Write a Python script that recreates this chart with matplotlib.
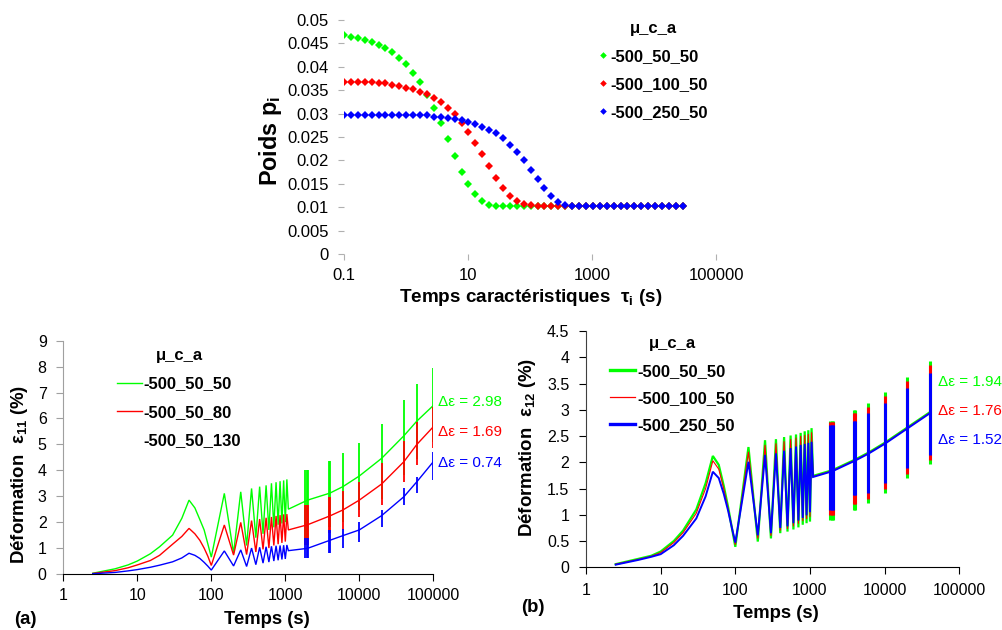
import matplotlib
matplotlib.use('Agg')
import matplotlib.pyplot as plt
from matplotlib.lines import Line2D

plt.rcParams['font.family'] = ['Liberation Sans', 'DejaVu Sans']
plt.rcParams['mathtext.fontset'] = 'custom'
plt.rcParams['mathtext.rm'] = 'Liberation Sans'
plt.rcParams['mathtext.it'] = 'Liberation Sans:italic'
plt.rcParams['mathtext.bf'] = 'Liberation Sans:bold'

GREEN, RED, BLUE = '#00FF00', '#FF0000', '#0000FF'

# ---------------- top panel : weights p_i vs tau_i ----------------
tau = [0.1, 0.1293, 0.1671, 0.2160, 0.2793, 0.3610, 0.4667, 0.6033, 0.7798, 1.008,
       1.303, 1.685, 2.178, 2.816, 3.639, 4.705, 6.081, 7.862, 10.16, 13.14,
       16.98, 21.95, 28.38, 36.69, 47.42, 61.30, 79.25, 102.4, 132.4, 171.2,
       221.3, 286.1, 369.8, 478.1, 618.0, 798.9, 1033, 1335, 1726, 2231,
       2884, 3728, 4819, 6230, 8054, 10411, 13459, 17398, 22491, 29074]
p_500_50_50 = [0.0467, 0.0464, 0.0462, 0.0458, 0.0453, 0.0447, 0.0440, 0.0431, 0.0419, 0.0406,
               0.0387, 0.0367, 0.0340, 0.0312, 0.0279, 0.0245, 0.0210, 0.0176, 0.0150, 0.0128,
               0.0114, 0.0106, 0.0103] + [0.0102] * 27
p_500_100_50 = [0.0367, 0.0367, 0.0367, 0.0367, 0.0367, 0.0366, 0.0365, 0.0362, 0.0359, 0.0355,
                0.0352, 0.0347, 0.0341, 0.0334, 0.0325, 0.0313, 0.0299, 0.0281, 0.0261, 0.0238,
                0.0213, 0.0188, 0.0163, 0.0141, 0.0124, 0.0114, 0.0107, 0.0104, 0.0103] + [0.0103] * 21
p_500_250_50 = [0.0298] * 7 + [0.0298, 0.0297, 0.0297, 0.0296, 0.0296, 0.0296, 0.0293, 0.0292, 0.0290,
                               0.0289, 0.0286, 0.0283, 0.0278, 0.0272, 0.0266, 0.0258, 0.0247, 0.0234,
                               0.0218, 0.0200, 0.0180, 0.0160, 0.0142, 0.0124, 0.0112, 0.0106] + [0.0103] * 17
top_labels = ['-500_50_50', '-500_100_50', '-500_250_50']
top_yticks = [0, 0.005, 0.01, 0.015, 0.02, 0.025, 0.03, 0.035, 0.04, 0.045, 0.05]
top_yticklabels = ['0', '0.005', '0.01', '0.015', '0.02', '0.025', '0.03', '0.035', '0.04', '0.045', '0.05']
top_xticks = [0.1, 10, 1000, 100000]
top_xticklabels = ['0.1', '10', '1000', '100000']

# ---------------- panel (a) : eps11 ----------------
a_t_early = [2.5, 5, 7.5, 10, 15, 20, 30, 40, 50, 60, 70, 80, 90, 100]
a_g_early = [0.03, 0.2, 0.35, 0.5, 0.78, 1.05, 1.5, 2.15, 2.85, 2.55, 2.1, 1.7, 1.15, 0.65]
a_r_early = [0.02, 0.13, 0.24, 0.35, 0.52, 0.72, 1.15, 1.45, 1.76, 1.55, 1.3, 1.0, 0.68, 0.33]
a_b_early = [0.01, 0.06, 0.12, 0.17, 0.26, 0.34, 0.47, 0.62, 0.8, 0.72, 0.6, 0.45, 0.3, 0.15]
osc_t = [150, 200, 250, 300, 350, 400, 450, 500, 550, 600, 650, 700, 750, 800, 850, 900, 950, 1000, 1050]
a_g_osc = [3.11, 0.80, 3.17, 1.10, 3.30, 1.40, 3.37, 1.55, 3.42, 1.70, 3.50, 1.80, 3.54, 1.90, 3.58, 1.95, 3.61, 2.00, 3.65]
a_r_osc = [1.89, 0.73, 1.99, 0.75, 2.06, 0.85, 2.12, 0.95, 2.17, 1.00, 2.20, 1.10, 2.24, 1.15, 2.27, 1.20, 2.30, 1.25, 2.31]
a_b_osc = [0.89, 0.31, 0.93, 0.29, 1.00, 0.36, 1.03, 0.42, 1.05, 0.46, 1.07, 0.50, 1.09, 0.53, 1.10, 0.56, 1.11, 0.58, 1.12]
a_t_base = [1100, 2000, 4000, 6000, 10000, 20000, 40000, 60000, 100000]
a_g_base = [2.5, 2.85, 3.12, 3.37, 3.78, 4.46, 5.33, 5.9, 6.5]
a_r_base = [1.7, 1.9, 2.24, 2.47, 2.85, 3.47, 4.33, 5.0, 5.68]
a_b_base = [0.9, 0.99, 1.3, 1.48, 1.7, 2.25, 2.98, 3.56, 4.33]
a_t_spk = [1850, 1950, 2050, 3900, 4050, 6000, 10000, 20000, 40000, 60000, 100000]
a_g_top = [4.01, 4.01, 4.01, 4.37, 4.37, 4.68, 5.06, 5.77, 6.71, 7.33, 7.93]
a_g_bot = [1.4, 1.4, 1.4, 1.8, 1.8, 2.0, 2.45, 2.9, 3.8, 4.45, 5.1]
a_r_top = [2.66, 2.66, 2.66, 2.98, 2.98, 3.2, 3.56, 4.27, 5.13, 5.87, 6.45]
a_r_bot = [1.12, 1.12, 1.12, 1.57, 1.57, 1.7, 2.21, 2.66, 3.56, 4.2, 4.85]
a_b_top = [1.38, 1.38, 1.38, 1.7, 1.7, 1.72, 2.02, 2.47, 3.3, 3.75, 4.72]
a_b_bot = [0.6, 0.6, 0.6, 0.8, 0.8, 0.99, 1.25, 1.82, 2.66, 3.11, 3.63]
a_labels = ['-500_50_50', '-500_50_80', '-500_50_130']
a_delta = ['\u0394\u03b5 = 2.98', '\u0394\u03b5 = 1.69', '\u0394\u03b5 = 0.74']

# ---------------- panel (b) : eps12 ----------------
b_t_early = [2.5, 5, 7.5, 10, 15, 20, 30, 40, 50, 60, 70, 80, 90, 100]
b_g_early = [0.06, 0.16, 0.22, 0.3, 0.5, 0.7, 1.1, 1.6, 2.12, 1.95, 1.55, 1.15, 0.75, 0.39]
b_r_early = [0.06, 0.15, 0.21, 0.28, 0.47, 0.66, 1.03, 1.5, 2.03, 1.87, 1.5, 1.12, 0.75, 0.43]
b_b_early = [0.05, 0.14, 0.2, 0.25, 0.42, 0.6, 0.93, 1.35, 1.82, 1.7, 1.4, 1.08, 0.75, 0.47]
b_g_osc = [2.29, 0.49, 2.42, 0.55, 2.44, 0.65, 2.48, 0.68, 2.51, 0.72, 2.53, 0.76, 2.56, 0.81, 2.59, 0.84, 2.61, 0.87, 2.65]
b_r_osc = [2.20, 0.55, 2.33, 0.60, 2.36, 0.70, 2.40, 0.73, 2.44, 0.78, 2.47, 0.83, 2.50, 0.88, 2.52, 0.92, 2.54, 0.96, 2.57]
b_b_osc = [2.01, 0.61, 2.14, 0.65, 2.17, 0.75, 2.22, 0.78, 2.27, 0.84, 2.30, 0.89, 2.33, 0.94, 2.35, 0.99, 2.37, 1.05, 2.39]
b_t_base = [1100, 2000, 4000, 6000, 10000, 20000, 40000]
b_g_base = [1.74, 1.85, 2.05, 2.18, 2.37, 2.66, 2.95]
b_r_base = [1.73, 1.84, 2.04, 2.17, 2.36, 2.65, 2.94]
b_b_base = [1.72, 1.83, 2.03, 2.16, 2.35, 2.64, 2.93]
b_t_spk = [1850, 1950, 2050, 3900, 4050, 6000, 10000, 20000, 40000]
b_g_top = [2.79, 2.79, 2.79, 3.0, 3.0, 3.12, 3.33, 3.62, 3.92]
b_g_bot = [0.91, 0.91, 0.91, 1.10, 1.10, 1.23, 1.42, 1.71, 1.96]
b_r_top = [2.76, 2.76, 2.76, 2.93, 2.93, 3.05, 3.26, 3.55, 3.85]
b_r_bot = [1.0, 1.0, 1.0, 1.2, 1.2, 1.3, 1.5, 1.78, 2.05]
b_b_top = [2.71, 2.71, 2.71, 2.79, 2.79, 2.93, 3.12, 3.41, 3.7]
b_b_bot = [1.09, 1.09, 1.09, 1.38, 1.38, 1.41, 1.6, 1.89, 2.14]
b_labels = ['-500_50_50', '-500_100_50', '-500_250_50']
b_delta = ['\u0394\u03b5 = 1.94', '\u0394\u03b5 = 1.76', '\u0394\u03b5 = 1.52']

W, H = 1003, 630
fig = plt.figure(figsize=(W / 100, H / 100), dpi=100)


def fx(x):
    return x / W


def fy(y):
    return 1 - y / H


def box(l, t, r, b):
    return [fx(l), fy(b), (r - l) / W, (b - t) / H]


# ---------- top ----------
ax0 = fig.add_axes(box(344, 19.9, 716, 254.2))
ax0.set_xscale('log')
for vals, c, lab in zip([p_500_50_50, p_500_100_50, p_500_250_50], [GREEN, RED, BLUE], top_labels):
    ax0.plot(tau, vals, linestyle='none', marker='D', markersize=4.2, color=c,
             markeredgewidth=0, label=lab)
ax0.set_xlim(0.1, 100000)
ax0.set_ylim(0, 0.05)
for s in ax0.spines.values():
    s.set_visible(False)
ax0.set_xticks(top_xticks)
ax0.set_xticklabels(top_xticklabels)
ax0.minorticks_off()
ax0.set_yticks(top_yticks)
ax0.set_yticklabels(top_yticklabels)
ax0.tick_params(axis='both', labelsize=12, color='#b0b0b0', length=4, width=0.8)
ax0.tick_params(axis='y', pad=7)
ax0.tick_params(axis='x', pad=6)
ax0.legend(loc='upper left', bbox_to_anchor=(fx(590), fy(13)), bbox_transform=fig.transFigure,
           frameon=False, title='\u03bc_c_a', handlelength=0.6, handletextpad=0.15,
           borderpad=0, labelspacing=0.77, markerscale=0.8,
           prop={'weight': 'bold', 'size': 12},
           title_fontproperties={'weight': 'bold', 'size': 12})
fig.text(fx(271), fy(141), 'Poids p$_\\mathregular{i}$', rotation=90, ha='center', va='center',
         fontsize=16.8, fontweight='bold')
fig.text(fx(531), fy(297), 'Temps caract\u00e9ristiques  $\\mathregular{\u03c4_i}$ (s)', ha='center',
         va='center', fontsize=13.6, fontweight='bold')


def draw_panel(ax, early_t, osc_t_, base_t, spk_t, series, lws, spk_lw):
    lines = []
    for (e, o, bse, top, bot, c), lw in zip(series, lws):
        t = list(early_t) + list(osc_t_) + list(base_t)
        y = list(e) + list(o) + list(bse)
        ln, = ax.plot(t, y, color=c, lw=lw, solid_joinstyle='miter')
        ax.vlines(spk_t, bot, top, colors=c, lw=spk_lw)
        lines.append(ln)
    return lines


# ---------- panel (a) ----------
axa = fig.add_axes(box(63.3, 340.7, 433.3, 574))
axa.set_xscale('log')
la = draw_panel(axa, a_t_early, osc_t, a_t_base, a_t_spk,
                [(a_g_early, a_g_osc, a_g_base, a_g_top, a_g_bot, GREEN),
                 (a_r_early, a_r_osc, a_r_base, a_r_top, a_r_bot, RED),
                 (a_b_early, a_b_osc, a_b_base, a_b_top, a_b_bot, BLUE)],
                [1.0, 1.0, 1.0], 1.3)
axa.set_xlim(1, 100000)
axa.set_ylim(0, 9)
axa.set_xticks([1, 10, 100, 1000, 10000, 100000])
axa.set_xticklabels(['1', '10', '100', '1000', '10000', '100000'])
axa.minorticks_off()
axa.set_yticks(range(10))
axa.set_yticklabels([str(i) for i in range(10)])
axa.spines['top'].set_visible(False)
axa.spines['right'].set_visible(False)
axa.spines['left'].set_color('#a0a0a0')
axa.spines['bottom'].set_color('black')
axa.tick_params(axis='both', labelsize=11.5, length=5, width=0.8)
axa.tick_params(axis='y', color='#a0a0a0', pad=7)
axa.tick_params(axis='x', pad=5)
empty = Line2D([], [], color='none')
axa.legend([la[0], la[1], empty], a_labels, loc='upper left',
           bbox_to_anchor=(fx(109), fy(340)), bbox_transform=fig.transFigure,
           frameon=False, title='\u03bc_c_a', handlelength=1.5, handletextpad=0.05,
           borderpad=0, labelspacing=0.79,
           prop={'weight': 'bold', 'size': 12},
           title_fontproperties={'weight': 'bold', 'size': 12})
for txt, c, y in zip(a_delta, [GREEN, RED, BLUE], [402, 432, 463]):
    fig.text(fx(438), fy(y), txt, color=c, fontsize=11, ha='left', va='center')
fig.text(fx(20), fy(474), 'D\u00e9formation  $\\mathregular{\u03b5_{11}}$ (%)', rotation=90,
         ha='center', va='center', fontsize=13.4, fontweight='bold')
fig.text(fx(267), fy(619), 'Temps (s)', ha='center', va='center', fontsize=13.3, fontweight='bold')
fig.text(fx(25), fy(619), '(a)', ha='center', va='center', fontsize=13.3, fontweight='bold')

# ---------- panel (b) ----------
axb = fig.add_axes(box(586, 331, 959.3, 567.3))
axb.set_xscale('log')
lb = draw_panel(axb, b_t_early, osc_t, b_t_base, b_t_spk,
                [(b_g_early, b_g_osc, b_g_base, b_g_top, b_g_bot, GREEN),
                 (b_r_early, b_r_osc, b_r_base, b_r_top, b_r_bot, RED),
                 (b_b_early, b_b_osc, b_b_base, b_b_top, b_b_bot, BLUE)],
                [1.6, 0.8, 1.4], 2.2)
axb.set_xlim(1, 100000)
axb.set_ylim(0, 4.5)
axb.set_xticks([1, 10, 100, 1000, 10000, 100000])
axb.set_xticklabels(['1', '10', '100', '1000', '10000', '100000'])
axb.minorticks_off()
yt_b = [0, 0.5, 1, 1.5, 2, 2.5, 3, 3.5, 4, 4.5]
axb.set_yticks(yt_b)
axb.set_yticklabels(['0', '0.5', '1', '1.5', '2', '2.5', '3', '3.5', '4', '4.5'])
axb.spines['top'].set_visible(False)
axb.spines['right'].set_visible(False)
axb.spines['left'].set_color('#404040')
axb.spines['bottom'].set_color('black')
axb.tick_params(axis='both', labelsize=11.5, length=5, width=0.8)
axb.tick_params(axis='y', pad=7)
axb.tick_params(axis='x', pad=6)
hb = [Line2D([], [], color=GREEN, lw=2.4), Line2D([], [], color=RED, lw=0.9),
      Line2D([], [], color=BLUE, lw=2.4)]
axb.legend(hb, b_labels, loc='upper left',
           bbox_to_anchor=(fx(602), fy(328)), bbox_transform=fig.transFigure,
           frameon=False, title='\u03bc_c_a', handlelength=1.5, handletextpad=0.1,
           borderpad=0, labelspacing=0.74,
           prop={'weight': 'bold', 'size': 12},
           title_fontproperties={'weight': 'bold', 'size': 12})
for txt, c, y in zip(b_delta, [GREEN, RED, BLUE], [382, 411, 440]):
    fig.text(fx(938), fy(y), txt, color=c, fontsize=11, ha='left', va='center')
fig.text(fx(527), fy(447), 'D\u00e9formation  $\\mathregular{\u03b5_{12}}$ (%)', rotation=90,
         ha='center', va='center', fontsize=13.4, fontweight='bold')
fig.text(fx(776), fy(613), 'Temps (s)', ha='center', va='center', fontsize=13.3, fontweight='bold')
fig.text(fx(533), fy(607), '(b)', ha='center', va='center', fontsize=13.3, fontweight='bold')

fig.savefig('out.png', dpi=100)
